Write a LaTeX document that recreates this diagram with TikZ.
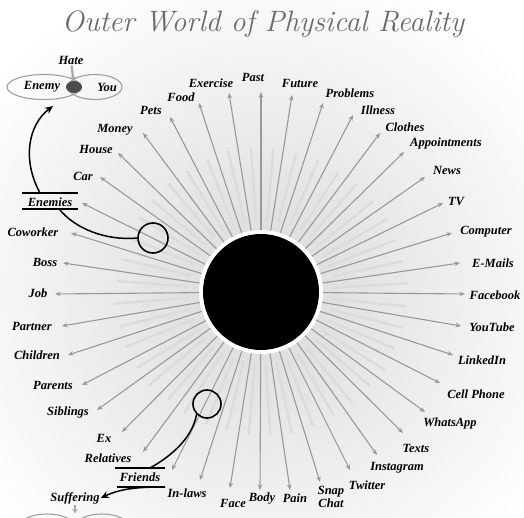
\documentclass[tikz,border=0pt]{standalone}
\usepackage{fontspec}
\newfontfamily\lblfont{Liberation Serif}
\usetikzlibrary{calc,arrows.meta,shapes.geometric}
\begin{document}
\begin{tikzpicture}[x=1pt,y=-1pt,
  lbl/.style={font=\lblfont\fontsize{12.5}{11}\selectfont\bfseries\itshape, inner sep=1pt, align=center},
  ray/.style={draw=gray!80, line width=1.1pt, shorten <=4pt, -{Stealth[length=5.5pt,width=4.5pt]}},
  echoa/.style={draw=gray!28, line width=2.4pt},
  echob/.style={draw=gray!22, line width=1.6pt, dash pattern=on 10pt off 6pt},
  ring/.style={circle, draw=black, line width=1.6pt, inner sep=0pt},
  callout/.style={draw=black, line width=1.5pt},
  egg/.style={draw=gray!75, line width=1.1pt}
]
\useasboundingbox (0,0) rectangle (524,518);
\begin{scope}
\clip (0,0) rectangle (524,518);
\shade[inner color=gray!30, outer color=white] (261,292) circle (340pt);
\fill[white] (261,292) circle (62pt);
\node[circle, fill=black, minimum size=116pt, inner sep=0pt] (C) at (261,292) {};

\node[font=\fontsize{29.5}{30}\selectfont\itshape, text=black!58] (title) at (263,24) {Outer World of Physical Reality};

\foreach \n/\lx/\ly/\tx/\ty/\txt in {
 1/211/83/229/93/Exercise, 2/253/77/261/92/Past, 3/300/83/292/95/Future,
 4/350/93/323/103/Problems, 5/378/110/353/115/Illness, 6/405/127/380/133/Clothes,
 7/446/143/404/152/Appointments, 8/447/170/425/177/News, 9/456/202/443/203/TV,
 10/486/232/452/233/Computer, 11/493/263/460/263/E-Mails, 12/495/295/465/294/Facebook,
 13/492/327/461/326/YouTube, 14/482/360/453/355/LinkedIn, 15/476/394/440/383/Cell Phone,
 16/450/423/425/412/WhatsApp, 17/416/448/403/433/Texts, 18/397/468/377/455/Instagram,
 19/367/485/350/470/Twitter, 20/331/497/320/482/{Snap\\Chat}, 21/295/498/290/490/Pain,
 22/262/499/260/490/Body, 23/233/503/230/488/Face, 24/187/493/200/480/In-laws,
 25/140/477/172/470/Friends, 26/108/458/143/452/Relatives, 27/104/438/122/432/Ex,
 28/68/412/97/410/Siblings, 29/53/385/82/385/Parents, 30/37/355/68/355/Children,
 31/32/326/62/326/Partner, 32/38/293/55/294/Job, 33/45/262/63/263/Boss,
 34/33/232/71/233/Coworker, 35/50/202/82/203/Enemies, 36/83/176/100/177/Car,
 37/96/149/118/153/House, 38/115/130/143/133/Money, 39/151/110/170/117/Pets,
 40/181/97/199/103/Food}{
  \coordinate (t\n) at (\tx,\ty);
  \draw[echoa] ($(C.center)!72pt!4:(t\n)$) -- ($(C.center)!0.72!4:(t\n)$);
  \draw[echob] ($(C.center)!95pt!-3:(t\n)$) -- ($(C.center)!0.62!-3:(t\n)$);
  \draw[ray] (C) -- (t\n);
  \node[lbl] (l\n) at (\lx,\ly) {\txt};
}

% top-left: Enemy / You
\node[lbl] (hate) at (71,60) {Hate};
\draw[egg] (44,87) ellipse (37pt and 12.5pt);
\draw[egg] (95,87) ellipse (27pt and 12.5pt);
\node[ellipse, fill=black!70, minimum width=16pt, minimum height=12pt, inner sep=0pt] (blob) at (74,87) {};
\draw[draw=gray!70, line width=2.2pt, -{Stealth[length=4pt,width=6pt]}] (hate) -- (blob);
\node[lbl] (enemy) at (42,87) {Enemy};
\node[lbl] (you) at (107,87) {You};

% Enemies underline bars and callouts
\draw[black, line width=1.4pt] (22,193) -- (78,193);
\draw[black, line width=1.2pt] (22,209) -- (78,209);
\coordinate (enA) at (40,193);
\coordinate (enB) at (60,210);
\coordinate (egg1) at (53,106);
\draw[callout, -{Stealth[length=8pt,width=7pt]}] (enA) .. controls (22,160) and (28,125) .. (egg1);
\node[ring, minimum size=30pt] (r1) at (153,238) {};
\draw[callout] (enB) .. controls (75,228) and (105,241) .. (r1.west);

% Friends callouts
\node[ring, minimum size=28pt] (r2) at (207,404) {};
\draw[black, line width=1.4pt] (115,468) -- (165,468);
\draw[black, line width=1.2pt] (117,487) -- (165,487);
\coordinate (frA) at (150,468);
\coordinate (frB) at (165,487);
\draw[callout] (r2.south west) .. controls (192,440) and (168,458) .. (frA);
\node[lbl] (suff) at (75,498) {Suffering};
\draw[callout, -{Stealth[length=8pt,width=7pt]}] (frB) .. controls (140,487) and (122,488) .. (suff.east);

% bottom eggs (cut off)
\coordinate (s1) at (75,505);
\coordinate (s2) at (75,513);
\draw[draw=gray!70, line width=2.2pt, -{Stealth[length=4pt,width=6pt]}] (s1) -- (s2);
\draw[egg] (47,527) ellipse (28pt and 13pt);
\draw[egg] (102,527) ellipse (27pt and 13pt);
\end{scope}
\end{tikzpicture}
\end{document}
